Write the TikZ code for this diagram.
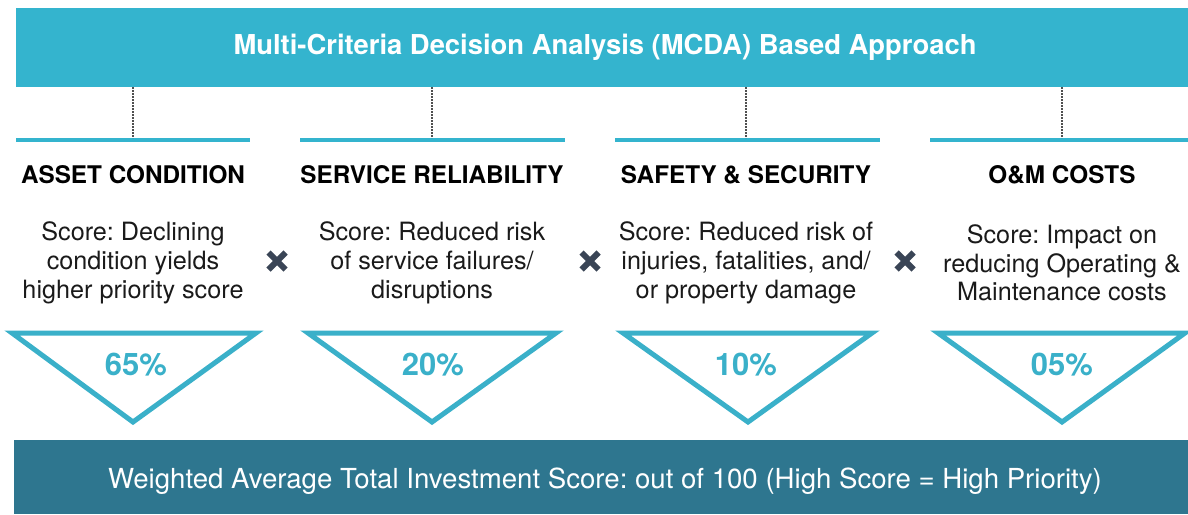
\documentclass[tikz,border=0pt]{standalone}
\usepackage{fontspec}
\setmainfont{TeX Gyre Heros}
\frenchspacing
\definecolor{topcyan}{RGB}{52,180,206}
\definecolor{botteal}{RGB}{46,118,143}
\definecolor{pctcyan}{RGB}{58,176,201}
\definecolor{xslate}{RGB}{58,69,86}
\definecolor{bodyblack}{RGB}{26,26,26}
\definecolor{connGrey}{RGB}{80,80,80}
\tikzset{
  titletext/.style={text=white, font=\fontsize{27.4}{30}\selectfont\bfseries},
  bottext/.style={text=white, font=\fontsize{27.6}{30}\selectfont},
  heading/.style={text=black, font=\fontsize{24.3}{27}\selectfont\bfseries, anchor=center},
  bodytext/.style={text=bodyblack, font=\fontsize{25.2}{28.7}\selectfont, align=center, anchor=center},
  pct/.style={text=pctcyan, font=\fontsize{31}{34}\selectfont\bfseries, anchor=center},
  xmark/.style={draw=xslate, line width=6pt},
  rule/.style={draw=topcyan, line width=4pt},
  tri/.style={draw=pctcyan, line width=5pt, line join=miter},
  conn/.style={draw=connGrey, line width=1.3pt, dash pattern=on 2pt off 1pt}
}
\begin{document}
\begin{tikzpicture}[x=1pt,y=-1pt]
\useasboundingbox (0,0) rectangle (1188,514);
% top banner
\fill[topcyan] (16,8) rectangle (1188,87);
\node[titletext] (title) at (605,47.5) {Multi-Criteria Decision Analysis (MCDA) Based Approach};
\coordinate (b1) at (133,87);
\coordinate (b2) at (432,87);
\coordinate (b3) at (746,87);
\coordinate (b4) at (1062,87);
% rules
\draw[rule] (16,140) -- (250,140);
\draw[rule] (300,140) -- (565,140);
\draw[rule] (615,140) -- (880,140);
\draw[rule] (930,140) -- (1188,140);
\coordinate (r1) at (133,138);
\coordinate (r2) at (432,138);
\coordinate (r3) at (746,138);
\coordinate (r4) at (1062,138);
\foreach \i in {1,2,3,4} \draw[conn] (b\i) -- (r\i);
% headings
\node[heading] (h1) at (133,175) {ASSET CONDITION};
\node[heading] (h2) at (432,175) {SERVICE RELIABILITY};
\node[heading] (h3) at (746,175) {SAFETY \& SECURITY};
\node[heading] (h4) at (1062,175) {O\&M COSTS};
% body
\node[bodytext] (t1) at (133,263) {Score: Declining\\condition yields\\higher priority score};
\node[bodytext] (t2) at (432,263) {Score: Reduced risk\\of service failures/\\disruptions};
\node[bodytext] (t3) at (746,263) {Score: Reduced risk of\\injuries, fatalities, and/\\or property damage};
\node[bodytext] (t4) at (1062,263) {Score: Impact on\\reducing Operating \&\\Maintenance costs};
% x marks
\foreach \cx in {277,590,905} {
  \draw[xmark] (\cx-8.5,261-8.5) -- (\cx+8.5,261+8.5);
  \draw[xmark] (\cx-8.5,261+8.5) -- (\cx+8.5,261-8.5);
}
% triangles
\draw[tri] (12,333) -- (256,333) -- (133,422) -- cycle;
\draw[tri] (308,333) -- (556,333) -- (432,422) -- cycle;
\draw[tri] (623,333) -- (872,333) -- (748,422) -- cycle;
\draw[tri] (938,333) -- (1185,333) -- (1062,422) -- cycle;
\node[pct] (p1) at (136,365) {65\%};
\node[pct] (p2) at (433,365) {20\%};
\node[pct] (p3) at (746,365) {10\%};
\node[pct] (p4) at (1062,365) {05\%};
% bottom banner
\fill[botteal] (14,440) rectangle (1188,514);
\node[bottext] (bot) at (605,481) {Weighted Average Total Investment Score: out of 100 (High Score = High Priority)};
\end{tikzpicture}
\end{document}
